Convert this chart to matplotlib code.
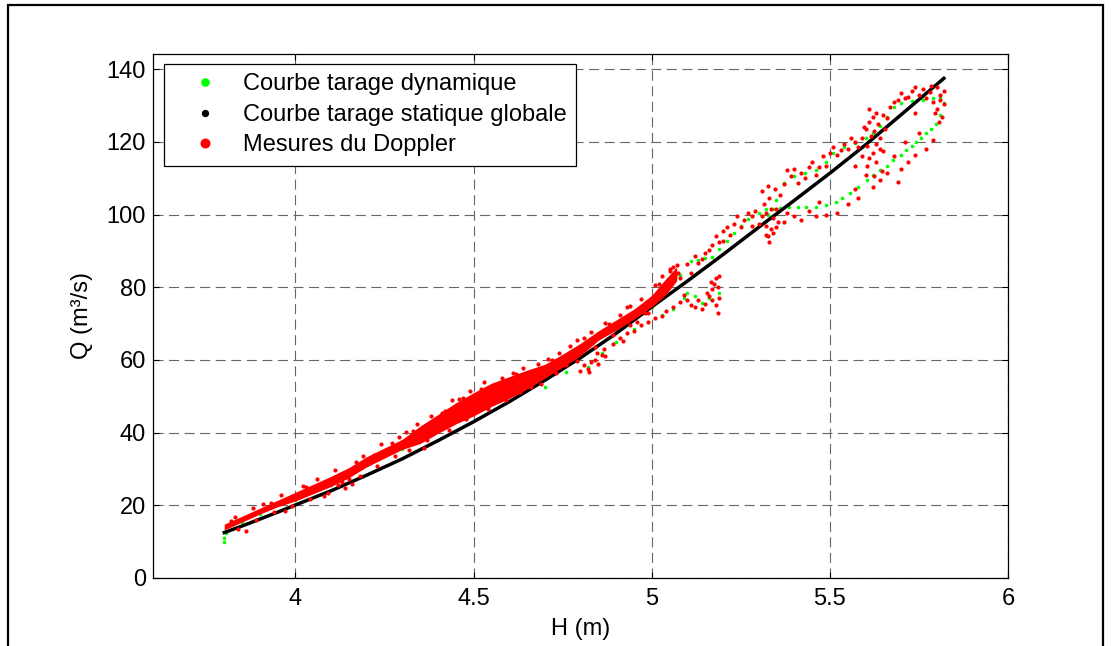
import matplotlib
matplotlib.use('Agg')
import matplotlib.pyplot as plt
from matplotlib.patches import Rectangle

plt.rcParams['font.family'] = ['Liberation Sans', 'DejaVu Sans']
plt.rcParams['font.size'] = 17

# static rating curve (black)
h_stat = [3.80, 3.85, 3.90, 3.95, 4.00, 4.10, 4.20, 4.30, 4.40, 4.50, 4.60, 4.70,
          4.80, 4.90, 5.00, 5.10, 5.20, 5.30, 5.40, 5.50, 5.60, 5.70, 5.82]
q_stat = [12.5, 14.3, 16.2, 18.1, 20.1, 24.0, 28.3, 32.8, 37.8, 43.0, 48.5, 54.4,
          60.6, 67.3, 74.6, 81.7, 89.0, 96.5, 103.9, 111.4, 119.2, 127.5, 137.5]

# dynamic rating curve (green)
h_dyn = [3.80, 3.80, 3.805, 3.85, 3.90, 4.00, 4.10, 4.20, 4.30, 4.40, 4.50, 4.60,
         4.70, 4.80, 4.90, 5.00, 5.05, 5.08, 4.70, 4.74, 4.76,
         4.82, 4.86, 4.90, 4.95, 4.99, 5.03, 5.06, 5.09, 5.10, 5.12, 5.14, 5.16, 5.19,
         5.11, 5.13, 5.15, 5.17, 5.19, 5.21, 5.23, 5.25, 5.27, 5.30, 5.32, 5.35, 5.37,
         5.40, 5.43, 5.46, 5.49, 5.51, 5.54, 5.57, 5.60, 5.62, 5.64, 5.66, 5.68, 5.70,
         5.73, 5.76, 5.79, 5.81,
         5.82, 5.81, 5.797, 5.785, 5.77, 5.755, 5.743, 5.73, 5.715, 5.70, 5.678, 5.66,
         5.64, 5.62, 5.603, 5.58, 5.556, 5.535, 5.517, 5.49, 5.46, 5.433, 5.41, 5.386,
         5.36, 5.34, 5.325]
q_dyn = [9.8, 11.0, 12.5, 15.5, 17.5, 21.5, 25.5, 31.0, 35.5, 41.5, 47.0, 51.5,
         55.5, 62.0, 68.0, 74.5, 80.5, 83.5, 52.5, 58.5, 56.7,
         58.0, 62.0, 65.0, 68.5, 70.5, 72.5, 74.0, 77.0, 78.5, 77.5, 75.6, 77.0, 78.3,
         87.3, 87.5, 88.0, 88.4, 90.5, 92.8, 95.0, 97.0, 98.8, 100.4, 101.5, 104.0, 108.6,
         110.5, 111.5, 112.2, 114.5, 116.9, 118.5, 119.6, 121.0, 122.4, 124.5, 126.8, 129.5, 130.8,
         131.3, 131.6, 132.0, 132.4,
         130.6, 127.5, 125.0, 123.5, 122.4, 121.0, 120.0, 119.0, 117.7, 116.5, 115.0, 113.5,
         112.2, 110.8, 109.5, 107.5, 105.9, 104.5, 103.4, 102.6, 102.2, 102.0, 102.0, 102.0,
         101.8, 101.5, 100.0]

# Doppler measurements: dense band at low stages (lower / upper edge)
h_band = [3.80, 3.85, 3.90, 3.95, 4.00, 4.05, 4.10, 4.15, 4.20, 4.25, 4.30, 4.35, 4.40, 4.45,
          4.50, 4.55, 4.60, 4.65, 4.70, 4.75, 4.80, 4.85, 4.90, 4.95, 5.00, 5.04, 5.07]
q_band_lo = [13.2, 15.4, 17.6, 19.6, 21.2, 23.2, 25.2, 27.6, 30.6, 33.0, 35.4, 37.0, 39.8, 42.4,
             44.6, 47.2, 49.4, 52.0, 55.0, 58.0, 61.2, 65.4, 68.2, 71.2, 74.6, 78.0, 81.8]
q_band_hi = [14.8, 17.0, 19.2, 21.4, 23.6, 25.8, 28.0, 30.4, 33.4, 35.8, 38.2, 41.8, 45.0, 48.2,
             51.0, 53.6, 55.4, 57.2, 58.8, 61.6, 64.6, 68.0, 71.0, 74.0, 77.8, 82.4, 85.6]

# Doppler measurements: scattered points
h_dop = [3.82, 3.86, 3.93, 3.97, 4.03, 4.08, 4.12, 4.14, 4.16, 4.15, 4.13, 4.22, 4.27, 4.33,
         4.36, 4.42, 4.47, 4.52, 4.56, 4.62, 4.66, 4.72, 4.78, 4.81, 4.88, 4.93, 4.98, 5.02,
         5.05, 5.06,
         3.83, 3.88, 3.91, 3.96, 4.02, 4.06, 4.11, 4.17, 4.19, 4.24, 4.29, 4.31, 4.34, 4.38,
         4.41, 4.44, 4.46, 4.49, 4.53, 4.58, 4.61, 4.64, 4.68, 4.71, 4.74, 4.77, 4.79, 4.83,
         4.87, 4.91, 4.94, 4.97, 5.01, 5.03,
         3.84, 3.89, 3.94, 3.99, 4.04, 4.09, 4.18, 4.23, 4.28, 4.32, 4.37, 4.43, 4.48, 4.54,
         4.59, 4.63, 4.69, 4.73, 4.76, 4.79, 4.84, 4.89, 4.94, 4.99,
         4.80, 4.81, 4.82, 4.83, 4.84, 4.85, 4.86, 4.865, 4.87, 4.825, 4.845,
         4.89, 4.91, 4.93, 4.95, 4.97, 4.99, 5.01, 5.03, 4.92, 4.96,
         5.04, 5.06, 5.08, 5.09, 5.10, 5.11, 5.12, 5.13, 5.14, 5.15, 5.16, 5.17, 5.175, 5.18,
         5.185, 5.19, 5.18, 5.185, 5.17, 5.155, 5.165, 5.19,
         5.05, 5.06, 5.065, 5.07, 5.075, 5.08,
         5.10, 5.12, 5.13, 5.15, 5.17, 5.18, 5.19, 5.20, 5.21, 5.22, 5.23, 5.24, 5.26, 5.27,
         5.28, 5.29, 5.11, 5.14, 5.16, 5.20, 5.25, 5.28,
         5.31, 5.315, 5.32, 5.32, 5.325, 5.33, 5.335, 5.34, 5.33, 5.345, 5.35, 5.355, 5.31,
         5.325, 5.34, 5.30, 5.335, 5.32,
         5.37, 5.39, 5.40, 5.42, 5.44, 5.45, 5.47, 5.48, 5.50, 5.51, 5.52, 5.54, 5.55, 5.57,
         5.43, 5.38, 5.36, 5.41, 5.46, 5.49, 5.53, 5.56, 5.58,
         5.59, 5.60, 5.605, 5.61, 5.615, 5.62, 5.62, 5.625, 5.63, 5.63, 5.635, 5.64, 5.645,
         5.65, 5.61, 5.60, 5.655, 5.66, 5.595, 5.63, 5.61, 5.65, 5.605, 5.625, 5.64, 5.59,
         5.57,
         5.67, 5.69, 5.70, 5.72, 5.73, 5.75, 5.76, 5.78, 5.79, 5.80, 5.80, 5.81, 5.815, 5.82,
         5.805, 5.795, 5.82, 5.74, 5.68, 5.71, 5.77, 5.81, 5.785, 5.74,
         5.79, 5.77, 5.75, 5.74, 5.72, 5.70, 5.68, 5.66, 5.64, 5.62, 5.58, 5.55, 5.52, 5.49,
         5.46, 5.44, 5.42, 5.40, 5.37, 5.35, 5.38, 5.47, 5.57, 5.71, 5.69]
q_dop = [15.8, 12.9, 20.5, 18.5, 25.0, 22.5, 25.5, 24.8, 26.0, 27.2, 26.5, 33.8, 37.2, 40.5,
         35.8, 46.0, 49.5, 52.0, 49.0, 56.0, 52.5, 60.0, 62.5, 66.0, 70.0, 74.5, 73.0, 81.0,
         85.0, 82.0,
         16.8, 19.2, 20.3, 22.8, 25.3, 27.3, 29.6, 31.8, 33.6, 36.8, 38.8, 40.2, 42.5, 44.6,
         45.5, 48.9, 49.2, 51.5, 53.8, 55.0, 56.5, 57.8, 58.8, 60.4, 62.0, 63.8, 65.5, 67.8,
         70.2, 72.4, 74.8, 76.8, 80.5, 83.2,
         13.6, 15.9, 18.2, 19.9, 21.8, 23.5, 28.2, 30.8, 33.5, 35.2, 38.0, 40.8, 43.8, 46.5,
         49.0, 51.2, 53.5, 56.5, 58.5, 59.8, 63.5, 66.8, 69.6, 72.8,
         57.0, 58.5, 57.5, 59.5, 60.0, 58.8, 61.5, 63.0, 61.0, 56.8, 62.0,
         64.5, 66.0, 67.5, 68.0, 69.5, 70.5, 71.5, 72.0, 65.2, 70.5,
         73.5, 74.5, 76.0, 78.0, 76.5, 75.0, 74.5, 76.5, 74.0, 75.5, 77.5, 79.5, 81.0, 82.5,
         80.0, 77.0, 75.0, 73.0, 76.5, 78.5, 81.5, 83.0,
         84.5, 85.5, 83.0, 86.0, 84.0, 82.5,
         86.5, 88.5, 86.8, 89.5, 91.5, 94.0, 92.5, 95.5, 96.5, 94.5, 97.5, 99.5, 98.5, 100.5,
         99.5, 101.0, 84.0, 87.8, 90.2, 92.8, 96.5, 97.0,
         106.5, 103.0, 100.5, 97.0, 94.0, 92.5, 96.0, 99.0, 104.5, 107.0, 101.5, 98.0, 99.5,
         108.0, 95.0, 97.5, 101.5, 94.5,
         108.5, 110.5, 112.5, 111.5, 113.0, 114.5, 113.2, 116.0, 117.0, 118.5, 116.5, 119.5, 118.0, 120.0,
         110.0, 112.2, 105.5, 108.8, 111.0, 113.5, 117.8, 121.0, 118.5,
         121.0, 123.5, 119.0, 125.5, 121.5, 117.0, 127.0, 123.0, 119.5, 114.5, 125.0, 121.0, 112.0,
         117.5, 115.5, 111.0, 123.5, 126.5, 124.0, 128.0, 129.0, 127.5, 113.5, 110.5, 118.0, 116.0,
         113.5,
         129.5, 131.5, 133.5, 132.5, 134.0, 133.0, 134.5, 133.8, 131.0, 135.0, 129.0, 133.0, 127.0, 130.5,
         125.5, 128.0, 134.0, 128.0, 131.0, 132.0, 132.0, 131.5, 135.5, 135.2,
         120.5, 118.0, 122.5, 116.5, 114.5, 112.5, 116.0, 111.5, 109.5, 107.5, 104.5, 103.0, 100.5, 100.0,
         99.5, 101.0, 98.5, 99.5, 98.0, 96.5, 100.5, 103.5, 107.0, 120.0, 109.0]

fig = plt.figure(figsize=(11.11, 6.46), dpi=100)
ax = fig.add_axes([0.1377, 0.1053, 0.7696, 0.8111])

ax.plot(h_dyn, q_dyn, 'o', color='#00ff00', markersize=2.6, markeredgewidth=0,
        label='Courbe tarage dynamique', zorder=3)
ax.plot(h_stat, q_stat, '-', color='black', linewidth=2.5, zorder=4)
ax.plot([], [], 'o', color='black', markersize=2.2, markeredgewidth=0,
        label='Courbe tarage statique globale')
ax.fill_between(h_band, q_band_lo, q_band_hi, color='red', linewidth=0, zorder=5)
ax.plot(h_dop, q_dop, 'o', color='red', markersize=3.0, markeredgewidth=0,
        label='Mesures du Doppler', zorder=5)

ax.set_xlim(3.6, 6)
ax.set_ylim(0, 144.2)
ax.set_xticks([4, 4.5, 5, 5.5, 6])
ax.set_xticklabels(['4', '4.5', '5', '5.5', '6'])
ax.set_yticks(range(0, 141, 20))
ax.tick_params(direction='in', length=4.5, width=0.8, top=True, right=True, pad=7)
ax.tick_params(axis='y', pad=5)
for s in ax.spines.values():
    s.set_linewidth(0.9)
ax.grid(True, color='0.4', linestyle=(0, (9, 5)), linewidth=0.8)
ax.set_axisbelow(True)

ax.set_xlabel('H (m)', labelpad=6)
ax.set_ylabel('Q (m³/s)', labelpad=10)

leg = ax.legend(loc='upper left', bbox_to_anchor=(0.0129, 0.981), borderaxespad=0,
                fancybox=False, edgecolor='black', framealpha=1, markerscale=2.4,
                handlelength=2.7, handletextpad=0.25, borderpad=0.4, labelspacing=0.36)
leg.get_frame().set_linewidth(0.9)

# figure frame (as in the exported page)
fig.patches.append(Rectangle((8 / 1111, -0.05), (1103 - 8) / 1111, 1.05 - 5 / 646,
                             transform=fig.transFigure, fill=False, edgecolor='black',
                             linewidth=1.6, clip_on=False))

plt.savefig('out.png', dpi=100)
